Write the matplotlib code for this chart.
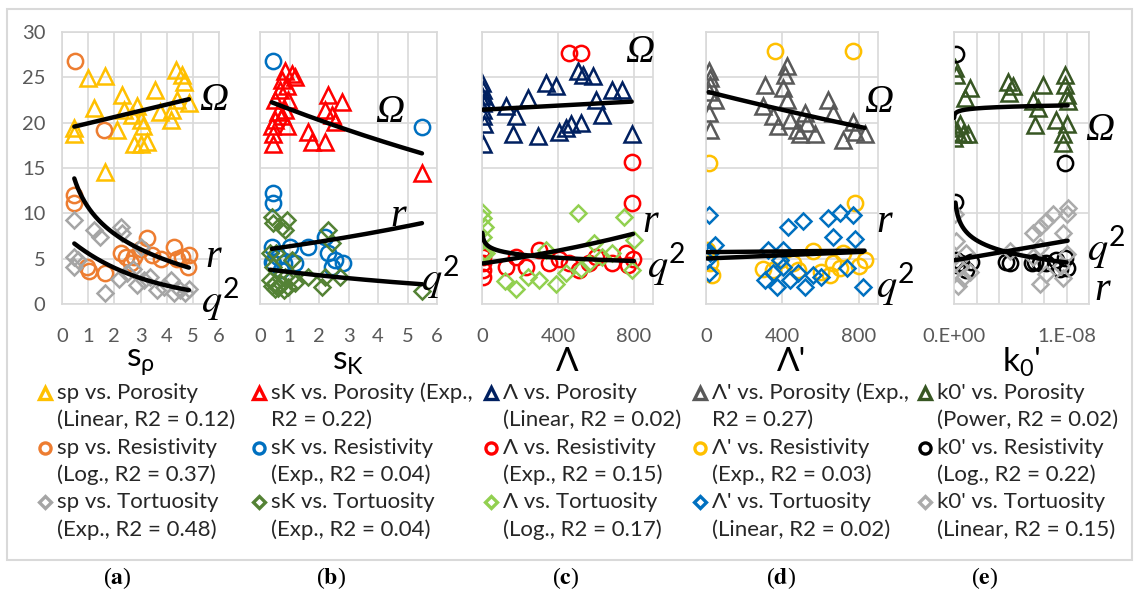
import numpy as np
import matplotlib.pyplot as plt

plt.rcParams['font.family'] = ['Lato', 'DejaVu Sans']
plt.rcParams['mathtext.fontset'] = 'custom'
plt.rcParams['mathtext.rm'] = 'Lato'
plt.rcParams['mathtext.it'] = 'Lato:italic'
plt.rcParams['mathtext.default'] = 'regular'

W, H = 1135, 593

# ---- (a) s_rho ----
sp_por_x = [0.47, 0.47, 0.98, 1.66, 1.21, 1.66, 2.30, 2.10, 2.36, 2.68, 2.87, 3.00, 3.10, 2.75, 3.00,
            3.26, 3.54, 3.74, 4.15, 4.20, 4.34, 4.60, 4.66, 4.85, 4.40]
sp_por_y = [19.4, 18.8, 24.9, 25.2, 21.6, 14.6, 23.1, 19.2, 21.4, 20.9, 21.8, 20.3, 19.6, 17.7, 17.7,
            17.9, 23.6, 21.2, 20.3, 21.4, 25.8, 25.3, 24.5, 22.2, 22.5]
sp_res_x = [0.51, 1.62, 0.47, 0.47, 0.96, 1.02, 1.66, 2.24, 2.43, 2.75, 3.00, 3.26, 3.45, 3.77, 4.28,
            4.40, 4.60, 4.85, 4.80, 2.62]
sp_res_y = [26.8, 19.2, 12.0, 11.1, 4.1, 3.6, 3.4, 5.6, 5.2, 5.2, 6.1, 7.3, 5.4, 5.0, 6.3,
            5.0, 5.2, 5.4, 4.1, 4.5]
sp_tor_x = [0.47, 0.47, 0.47, 0.60, 1.21, 1.47, 1.66, 2.24, 2.30, 2.17, 2.50, 2.87, 3.13, 3.38, 3.64,
            3.90, 4.15, 4.28, 4.50, 4.70, 4.85, 3.00, 2.70]
sp_tor_y = [9.3, 5.2, 4.1, 4.8, 8.2, 7.4, 1.2, 8.5, 7.8, 2.8, 3.4, 2.1, 2.6, 3.0, 1.5,
            1.9, 2.6, 1.2, 1.5, 1.2, 1.7, 6.3, 3.9]

# ---- (b) s_K ----
sk_por_x = [0.45, 0.45, 0.40, 0.51, 0.62, 0.51, 0.68, 0.74, 0.85, 1.08, 1.19, 0.90, 0.90, 0.85, 0.74,
            0.96, 1.64, 1.75, 2.20, 2.32, 2.20, 2.43, 2.55, 2.77, 5.49]
sk_por_y = [17.7, 18.7, 19.6, 20.3, 21.2, 22.5, 23.6, 24.7, 25.7, 25.4, 25.0, 24.0, 19.6, 21.4, 20.7,
            22.5, 19.0, 17.9, 17.9, 23.0, 21.4, 20.9, 20.1, 22.3, 14.4]
sk_res_x = [0.45, 5.49, 0.45, 0.45, 0.40, 0.45, 0.80, 1.02, 1.19, 1.64, 2.20, 2.32, 2.55, 2.83, 2.43,
            0.60, 0.70, 0.40]
sk_res_y = [26.8, 19.5, 12.2, 11.1, 6.3, 4.5, 4.5, 6.3, 4.5, 6.3, 7.4, 5.6, 4.9, 4.5, 4.1,
            5.2, 3.8, 4.6]
sk_tor_x = [0.40, 0.45, 0.74, 0.85, 0.90, 0.34, 0.45, 0.34, 0.51, 0.62, 0.80, 0.96, 1.19, 1.08, 0.85,
            1.64, 2.10, 2.32, 2.43, 2.20, 2.72, 5.49, 1.08, 0.55, 0.40, 0.50, 0.70, 0.60]
sk_tor_y = [9.6, 8.9, 8.5, 8.2, 9.3, 5.6, 4.1, 2.6, 2.3, 1.9, 1.5, 1.9, 2.3, 3.0, 3.0,
            3.0, 1.9, 8.2, 6.7, 3.0, 3.0, 1.4, 4.9, 5.6, 2.0, 1.6, 2.2, 1.8]

# ---- (c) Lambda ----
lam_por_x = [2, 3, 5, 2, 6, 3, 8, 4, 23, 128, 180, 241, 162, 293, 337, 389, 407, 442, 468, 520,
             503, 529, 582, 599, 634, 686, 739, 788]
lam_por_y = [24.4, 23.6, 22.2, 22.9, 21.4, 20.7, 19.9, 17.7, 22.5, 21.8, 20.7, 22.7, 18.7, 18.5, 24.4,
             24.0, 19.0, 19.4, 19.8, 20.0, 25.7, 25.3, 25.1, 22.5, 20.9, 23.6, 23.6, 18.8]
lam_res_x = [459, 521, 788, 788, 2, 3, 5, 4, 6, 128, 180, 232, 302, 355, 407, 459, 510, 564, 599, 686,
             756, 770, 795]
lam_res_y = [27.7, 27.7, 15.7, 11.1, 6.0, 5.2, 4.5, 3.8, 3.0, 4.1, 5.2, 4.1, 6.0, 4.5, 5.0, 4.5, 3.8,
             4.5, 5.2, 4.5, 5.6, 4.3, 5.0]
lam_tor_x = [2, 5, 14, 5, 3, 503, 748, 800, 788, 119, 180, 241, 302, 337, 389, 442, 520, 590, 634,
             686, 564, 23]
lam_tor_y = [10.2, 9.5, 8.5, 7.4, 5.6, 10.0, 9.6, 7.1, 3.8, 2.5, 1.7, 3.0, 2.6, 6.0, 2.2, 3.4, 3.9,
             6.7, 5.2, 5.6, 4.5, 5.6]

# ---- (d) Lambda' ----
lamp_por_x = [14, 23, 23, 14, 49, 14, 23, 309, 300, 352, 422, 413, 405, 422, 378, 439, 474, 491, 517,
              526, 569, 639, 665, 717, 769, 778, 830]
lamp_por_y = [25.7, 24.9, 24.2, 23.4, 22.5, 21.1, 19.2, 24.2, 21.8, 20.7, 26.2, 25.3, 23.8, 22.5, 19.6,
              20.3, 19.2, 18.8, 21.1, 20.0, 18.7, 22.5, 21.1, 18.1, 20.1, 19.0, 18.8]
lamp_res_x = [361, 769, 14, 778, 5, 23, 31, 300, 352, 387, 457, 561, 648, 665, 717, 830, 483,
              600, 700, 800]
lamp_res_y = [27.9, 27.9, 15.6, 11.1, 6.0, 4.5, 3.2, 3.9, 3.8, 4.9, 4.5, 5.8, 3.2, 4.5, 5.6, 4.9, 3.8,
              3.5, 4.0, 4.2]
lamp_tor_x = [14, 49, 23, 5, 14, 326, 309, 352, 387, 405, 431, 509, 370, 405, 439, 483, 517, 561,
              639, 700, 665, 769, 778, 821, 600, 740]
lamp_tor_y = [9.8, 6.5, 5.6, 4.9, 3.4, 6.0, 2.6, 3.4, 4.9, 6.0, 8.5, 9.1, 1.9, 4.1, 2.6, 3.4, 1.9,
              3.2, 9.5, 10.0, 7.4, 9.8, 7.2, 1.9, 3.0, 4.0]

# ---- (e) k0' (values in 1e-9) ----
k0_por_x = [0.06, 0.2, 1.4, 0.95, 0.01, 0.36, 0.8, 1.25, 0.03, 0.5, 4.8, 5.25, 4.9, 7.0, 7.5, 7.9,
            7.2, 9.1, 9.85, 9.85, 10.0, 10.1, 10.0, 9.7, 9.7]
k0_por_y = [26.0, 25.3, 23.8, 22.7, 19.4, 18.9, 18.7, 18.7, 18.3, 19.8, 24.5, 24.0, 23.3, 22.4, 21.6,
            24.2, 19.7, 20.3, 25.3, 24.2, 23.1, 22.4, 19.9, 18.7, 17.8]
k0_res_x = [0.15, 9.85, 0.13, 0.2, 0.3, 0.65, 1.1, 1.5, 4.65, 4.95, 6.9, 7.2, 7.6, 8.2, 9.1, 9.85,
            10.0, 9.4]
k0_res_y = [27.6, 15.6, 11.3, 4.9, 4.3, 4.5, 3.7, 4.6, 4.6, 4.5, 4.5, 4.6, 4.5, 4.5, 4.8, 5.1,
            4.0, 3.9]
k0_tor_x = [0.06, 0.2, 0.5, 1.1, 0.8, 0.36, 1.4, 4.95, 7.0, 7.6, 8.2, 8.8, 10.0, 10.1, 9.7, 7.6,
            7.0, 8.2, 7.6, 9.7, 10.0, 9.5, 0.1]
k0_tor_y = [9.9, 7.0, 4.1, 5.6, 2.9, 2.0, 3.5, 5.9, 7.8, 8.5, 9.2, 9.9, 9.9, 10.6, 7.8, 6.3,
            5.2, 3.3, 2.2, 2.9, 5.5, 4.2, 4.5]
k0_scale = 1e-9

legend_a = [('sp vs. Porosity', '(Linear, R2 = 0.12)'),
            ('sp vs. Resistivity', '(Log., R2 = 0.37)'),
            ('sp vs. Tortuosity', '(Exp., R2 = 0.48)')]
legend_b = [('sK vs. Porosity (Exp.,', 'R2 = 0.22)'),
            ('sK vs. Resistivity', '(Exp., R2 = 0.04)'),
            ('sK vs. Tortuosity', '(Exp., R2 = 0.04)')]
legend_c = [('Λ vs. Porosity', '(Linear, R2 = 0.02)'),
            ('Λ vs. Resistivity', '(Exp., R2 = 0.15)'),
            ('Λ vs. Tortuosity', '(Log., R2 = 0.17)')]
legend_d = [("Λ' vs. Porosity (Exp.,", 'R2 = 0.27)'),
            ("Λ' vs. Resistivity", '(Exp., R2 = 0.03)'),
            ("Λ' vs. Tortuosity", '(Linear, R2 = 0.02)')]
legend_e = [("k0' vs. Porosity", '(Power, R2 = 0.02)'),
            ("k0' vs. Resistivity", '(Log., R2 = 0.22)'),
            ("k0' vs. Tortuosity", '(Linear, R2 = 0.15)')]

fits_a = ['Linear', 'Log.', 'Exp.']
fits_b = ['Exp.', 'Exp.', 'Exp.']
fits_c = ['Linear', 'Exp.', 'Log.']
fits_d = ['Exp.', 'Exp.', 'Linear']
fits_e = ['Power', 'Log.', 'Linear']


def trend(x, y, kind):
    x = np.asarray(x, float)
    y = np.asarray(y, float)
    xs = np.unique(np.concatenate([np.linspace(x.min(), x.max(), 300),
                                   np.geomspace(x.min(), x.max(), 300)]))
    if kind == 'Linear':
        ys = np.polyval(np.polyfit(x, y, 1), xs)
    elif kind == 'Log.':
        ys = np.polyval(np.polyfit(np.log(x), y, 1), np.log(xs))
    elif kind == 'Exp.':
        ys = np.exp(np.polyval(np.polyfit(x, np.log(y), 1), xs))
    else:
        ys = np.exp(np.polyval(np.polyfit(np.log(x), np.log(y), 1), np.log(xs)))
    return xs, ys


k0 = lambda v: [i * k0_scale for i in v]

panels = [
    dict(left=62, right=219, xlim=(0, 6), xticks=list(range(7)), xlabels=None,
         series=[(sp_por_x, sp_por_y), (sp_res_x, sp_res_y), (sp_tor_x, sp_tor_y)],
         colors=['#FFC000', '#ED7D31', '#A5A5A5'], fits=fits_a, legend=legend_a,
         xlabel='s$_ρ$', tag='a', leg_x=45, lab=[(214, 100), (213, 258), (220, 300)]),
    dict(left=260, right=437, xlim=(0, 6), xticks=list(range(7)), xlabels=None,
         series=[(sk_por_x, sk_por_y), (sk_res_x, sk_res_y), (sk_tor_x, sk_tor_y)],
         colors=['#FF0000', '#0070C0', '#548235'], fits=fits_b, legend=legend_b,
         xlabel='s$_K$', tag='b', leg_x=259, lab=[(390, 112), (398, 217), (440, 278)]),
    dict(left=482, right=653, xlim=(0, 900), xticks=[0, 400, 800], xlabels=None,
         series=[(lam_por_x, lam_por_y), (lam_res_x, lam_res_y), (lam_tor_x, lam_tor_y)],
         colors=['#002060', '#FF0000', '#92D050'], fits=fits_c, legend=legend_c,
         xlabel='Λ', tag='c', leg_x=491, lab=[(640, 52), (650, 222), (666, 265)]),
    dict(left=706, right=878, xlim=(0, 900), xticks=[0, 400, 800], xlabels=None,
         series=[(lamp_por_x, lamp_por_y), (lamp_res_x, lamp_res_y), (lamp_tor_x, lamp_tor_y)],
         colors=['#595959', '#FFC000', '#0070C0'], fits=fits_d, legend=legend_d,
         xlabel="Λ'", tag='d', leg_x=700, lab=[(879, 102), (884, 222), (895, 285)]),
    dict(left=954, right=1089, xlim=(0, 1.2e-8), xticks=[i * 2e-9 for i in range(7)],
         xlabels=['0.E+00', '', '', '', '', '1.E-08', ''],
         series=[(k0(k0_por_x), k0_por_y), (k0(k0_res_x), k0_res_y), (k0(k0_tor_x), k0_tor_y)],
         colors=['#375623', '#000000', '#ABABAB'], fits=fits_e, legend=legend_e,
         xlabel="k$_0$'", tag='e', leg_x=925, lab=[(1100, 130), (1102, 290), (1106, 248)]),
]

markers = ['^', 'o', 'D']
msizes = [12, 11, 8]

fig = plt.figure(figsize=(W / 100, H / 100), dpi=100)
top, bot = 32, 304

for p in panels:
    ax = fig.add_axes([p['left'] / W, 1 - bot / H, (p['right'] - p['left']) / W, (bot - top) / H])
    for (x, y), c, m, ms in zip(p['series'], p['colors'], markers, msizes):
        ax.plot(x, y, linestyle='none', marker=m, ms=ms, mfc='none', mec=c, mew=1.8)
    for (x, y), kind in zip(p['series'], p['fits']):
        xs, ys = trend(x, y, kind)
        ax.plot(xs, ys, color='black', lw=3.2, solid_capstyle='round', zorder=5)
    ax.set_xlim(*p['xlim'])
    ax.set_ylim(0, 30)
    ax.set_xticks(p['xticks'])
    if p['xlabels'] is not None:
        ax.set_xticklabels(p['xlabels'])
    ax.set_yticks([0, 10, 20, 30] if p['tag'] == 'e' else list(range(0, 31, 5)))
    ax.grid(True, color='#D9D9D9', lw=1.2)
    ax.set_axisbelow(True)
    for s in ax.spines.values():
        s.set_color('#D9D9D9')
        s.set_linewidth(1.2)
    ax.tick_params(length=0, labelsize=14.5, labelcolor='#595959', pad=17)
    ax.tick_params(axis='y', pad=12, labelleft=(p['tag'] == 'a'))
    ax.patch.set_alpha(0)

    cx = (p['left'] + p['right']) / 2
    fig.text(cx / W, 1 - 362 / H, p['xlabel'], fontsize=24, ha='center', va='center', color='black')

    # curve labels
    (ox, oy), (rx, ry), (qx, qy) = p['lab']
    fig.text(ox / W, 1 - oy / H, 'Ω', fontsize=29, ha='center', va='center',
             family='Liberation Serif', style='italic')
    fig.text(rx / W, 1 - ry / H, 'r', fontsize=29, ha='center', va='center',
             family='Liberation Serif', style='italic')
    fig.text(qx / W, 1 - qy / H, r'$\mathit{q}^{2}$', fontsize=29, ha='center', va='center',
             math_fontfamily='stix')

# overlay for frame, legends, panel tags
ov = fig.add_axes([0, 0, 1, 1], zorder=-5)
ov.set_xlim(0, W)
ov.set_ylim(H, 0)
ov.axis('off')
ov.add_patch(plt.Rectangle((7, 9), 1125, 551, fill=False, ec='#D9D9D9', lw=1.5))

ov2 = fig.add_axes([0, 0, 1, 1], zorder=10)
ov2.set_xlim(0, W)
ov2.set_ylim(H, 0)
ov2.axis('off')
row0, dy = 393, 27.3
tag_x = [117, 331, 566, 781, 985]
for p, tx in zip(panels, tag_x):
    for i, ((l1, l2), c, m) in enumerate(zip(p['legend'], p['colors'], markers)):
        y1 = row0 + dy * 2 * i
        ov2.plot([p['leg_x']], [y1], marker=m, ms=[8, 8, 6][i], mfc='none', mec=c, mew=2.4,
                 linestyle='none')
        ov2.text(p['leg_x'] + 12, y1, l1, fontsize=16, va='center', ha='left', color='#262626')
        ov2.text(p['leg_x'] + 12, y1 + dy, l2, fontsize=16, va='center', ha='left', color='#262626')
    ov2.text(tx, 578, '(' + r'$\mathbf{' + p['tag'] + '}$' + ')', fontsize=17, ha='center',
             va='center', family='Liberation Serif', math_fontfamily='stix')

fig.savefig('out.png', dpi=100)
